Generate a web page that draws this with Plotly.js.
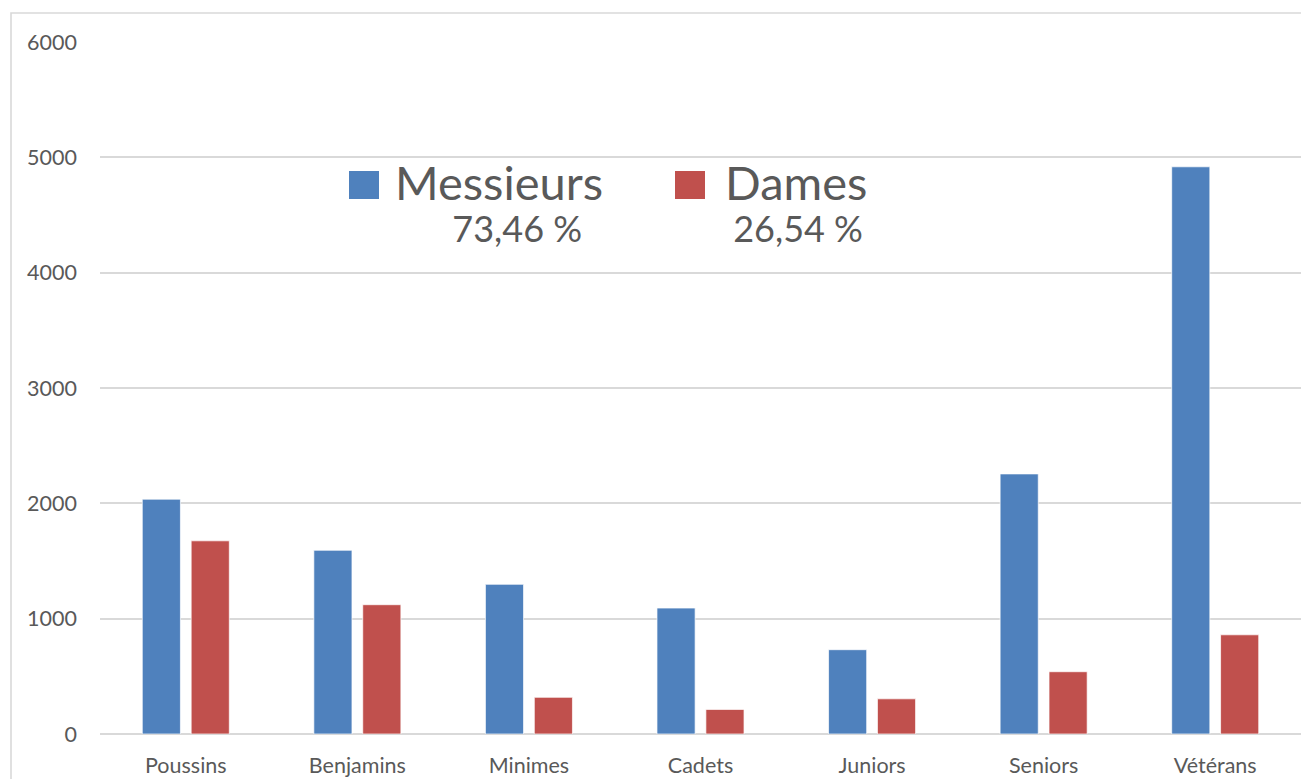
<!DOCTYPE html>
<html>
<head>
<meta charset="utf-8">
<script src="https://cdn.plot.ly/plotly-3.0.1.min.js"></script>
<style>html,body{margin:0;padding:0;background:#fff;}#chart{width:1301px;height:779px;}</style>
</head>
<body>
<div id="chart"></div>
<script>
const categories = ["Poussins", "Benjamins", "Minimes", "Cadets", "Juniors", "Seniors", "Vétérans"];
const messieurs = [2036, 1593, 1298, 1092, 731, 2255, 4918];
const dames = [1675, 1121, 318, 213, 305, 540, 860];
const seriesNames = ["Messieurs", "Dames"];
const percentLabels = ["73,46 %", "26,54 %"];
const yTickValues = [0, 1000, 2000, 3000, 4000, 5000, 6000];

const blue = "#4F81BD";
const red = "#C0504D";
const grey = "#595959";
const grid = "#D9D9D9";
const font = "Lato, 'Open Sans', sans-serif";

const traces = [
  {type: "bar", name: seriesNames[0], x: categories, y: messieurs,
   marker: {color: blue, line: {color: "rgba(255,255,255,0.7)", width: 1}}, showlegend: false, hoverinfo: "x+y"},
  {type: "bar", name: seriesNames[1], x: categories, y: dames,
   marker: {color: red, line: {color: "rgba(255,255,255,0.7)", width: 1}}, showlegend: false, hoverinfo: "x+y"}
];

function px(x) { return (x - 100) / 1201; }
function py(y) { return (734 - y) / 692; }

function legendText(name, pct, indent) {
  return '<span style="font-size:47px">' + name + '</span><br>' +
         '\u00A0'.repeat(indent) + '<span style="font-size:36px">' + pct + '</span>';
}

const layout = {
  width: 1301, height: 779,
  margin: {l: 100, r: 0, t: 42, b: 45, pad: 0},
  paper_bgcolor: "#ffffff", plot_bgcolor: "#ffffff",
  barmode: "group", bargap: 0.43, bargroupgap: 0.22,
  font: {family: font, color: grey, size: 21},
  xaxis: {type: "category", showgrid: false, zeroline: false, showline: false, ticks: "",
          tickfont: {family: font, size: 21.5, color: grey}, ticklabelstandoff: 16, fixedrange: true},
  yaxis: {range: [0, 6000], tickvals: yTickValues, ticktext: yTickValues.map(String),
          showgrid: true, gridcolor: grid, gridwidth: 1.6, zeroline: true, zerolinecolor: grid, zerolinewidth: 1.6,
          showline: false, ticks: "", tickfont: {family: font, size: 21.5, color: grey}, ticklabelstandoff: 22, fixedrange: true},
  shapes: [
    {type: "rect", xref: "paper", yref: "paper", x0: px(11), x1: px(1320), y0: py(800), y1: py(13),
     line: {color: grid, width: 1.6}, fillcolor: "rgba(0,0,0,0)", layer: "below"},
    {type: "rect", xref: "paper", yref: "paper", x0: px(349), x1: px(379), y0: py(199), y1: py(171),
     line: {width: 0}, fillcolor: blue},
    {type: "rect", xref: "paper", yref: "paper", x0: px(675), x1: px(705), y0: py(199), y1: py(171),
     line: {width: 0}, fillcolor: red}
  ],
  annotations: [
    {xref: "paper", yref: "paper", x: px(393), y: py(202), xanchor: "left", yanchor: "middle", showarrow: false,
     align: "left", text: legendText(seriesNames[0], percentLabels[0], 7), font: {family: font, size: 32, color: grey}},
    {xref: "paper", yref: "paper", x: px(723), y: py(202), xanchor: "left", yanchor: "middle", showarrow: false,
     align: "left", text: legendText(seriesNames[1], percentLabels[1], 1), font: {family: font, size: 32, color: grey}}
  ]
};

Plotly.newPlot("chart", traces, layout, {displayModeBar: false, responsive: false});
</script>
</body>
</html>
